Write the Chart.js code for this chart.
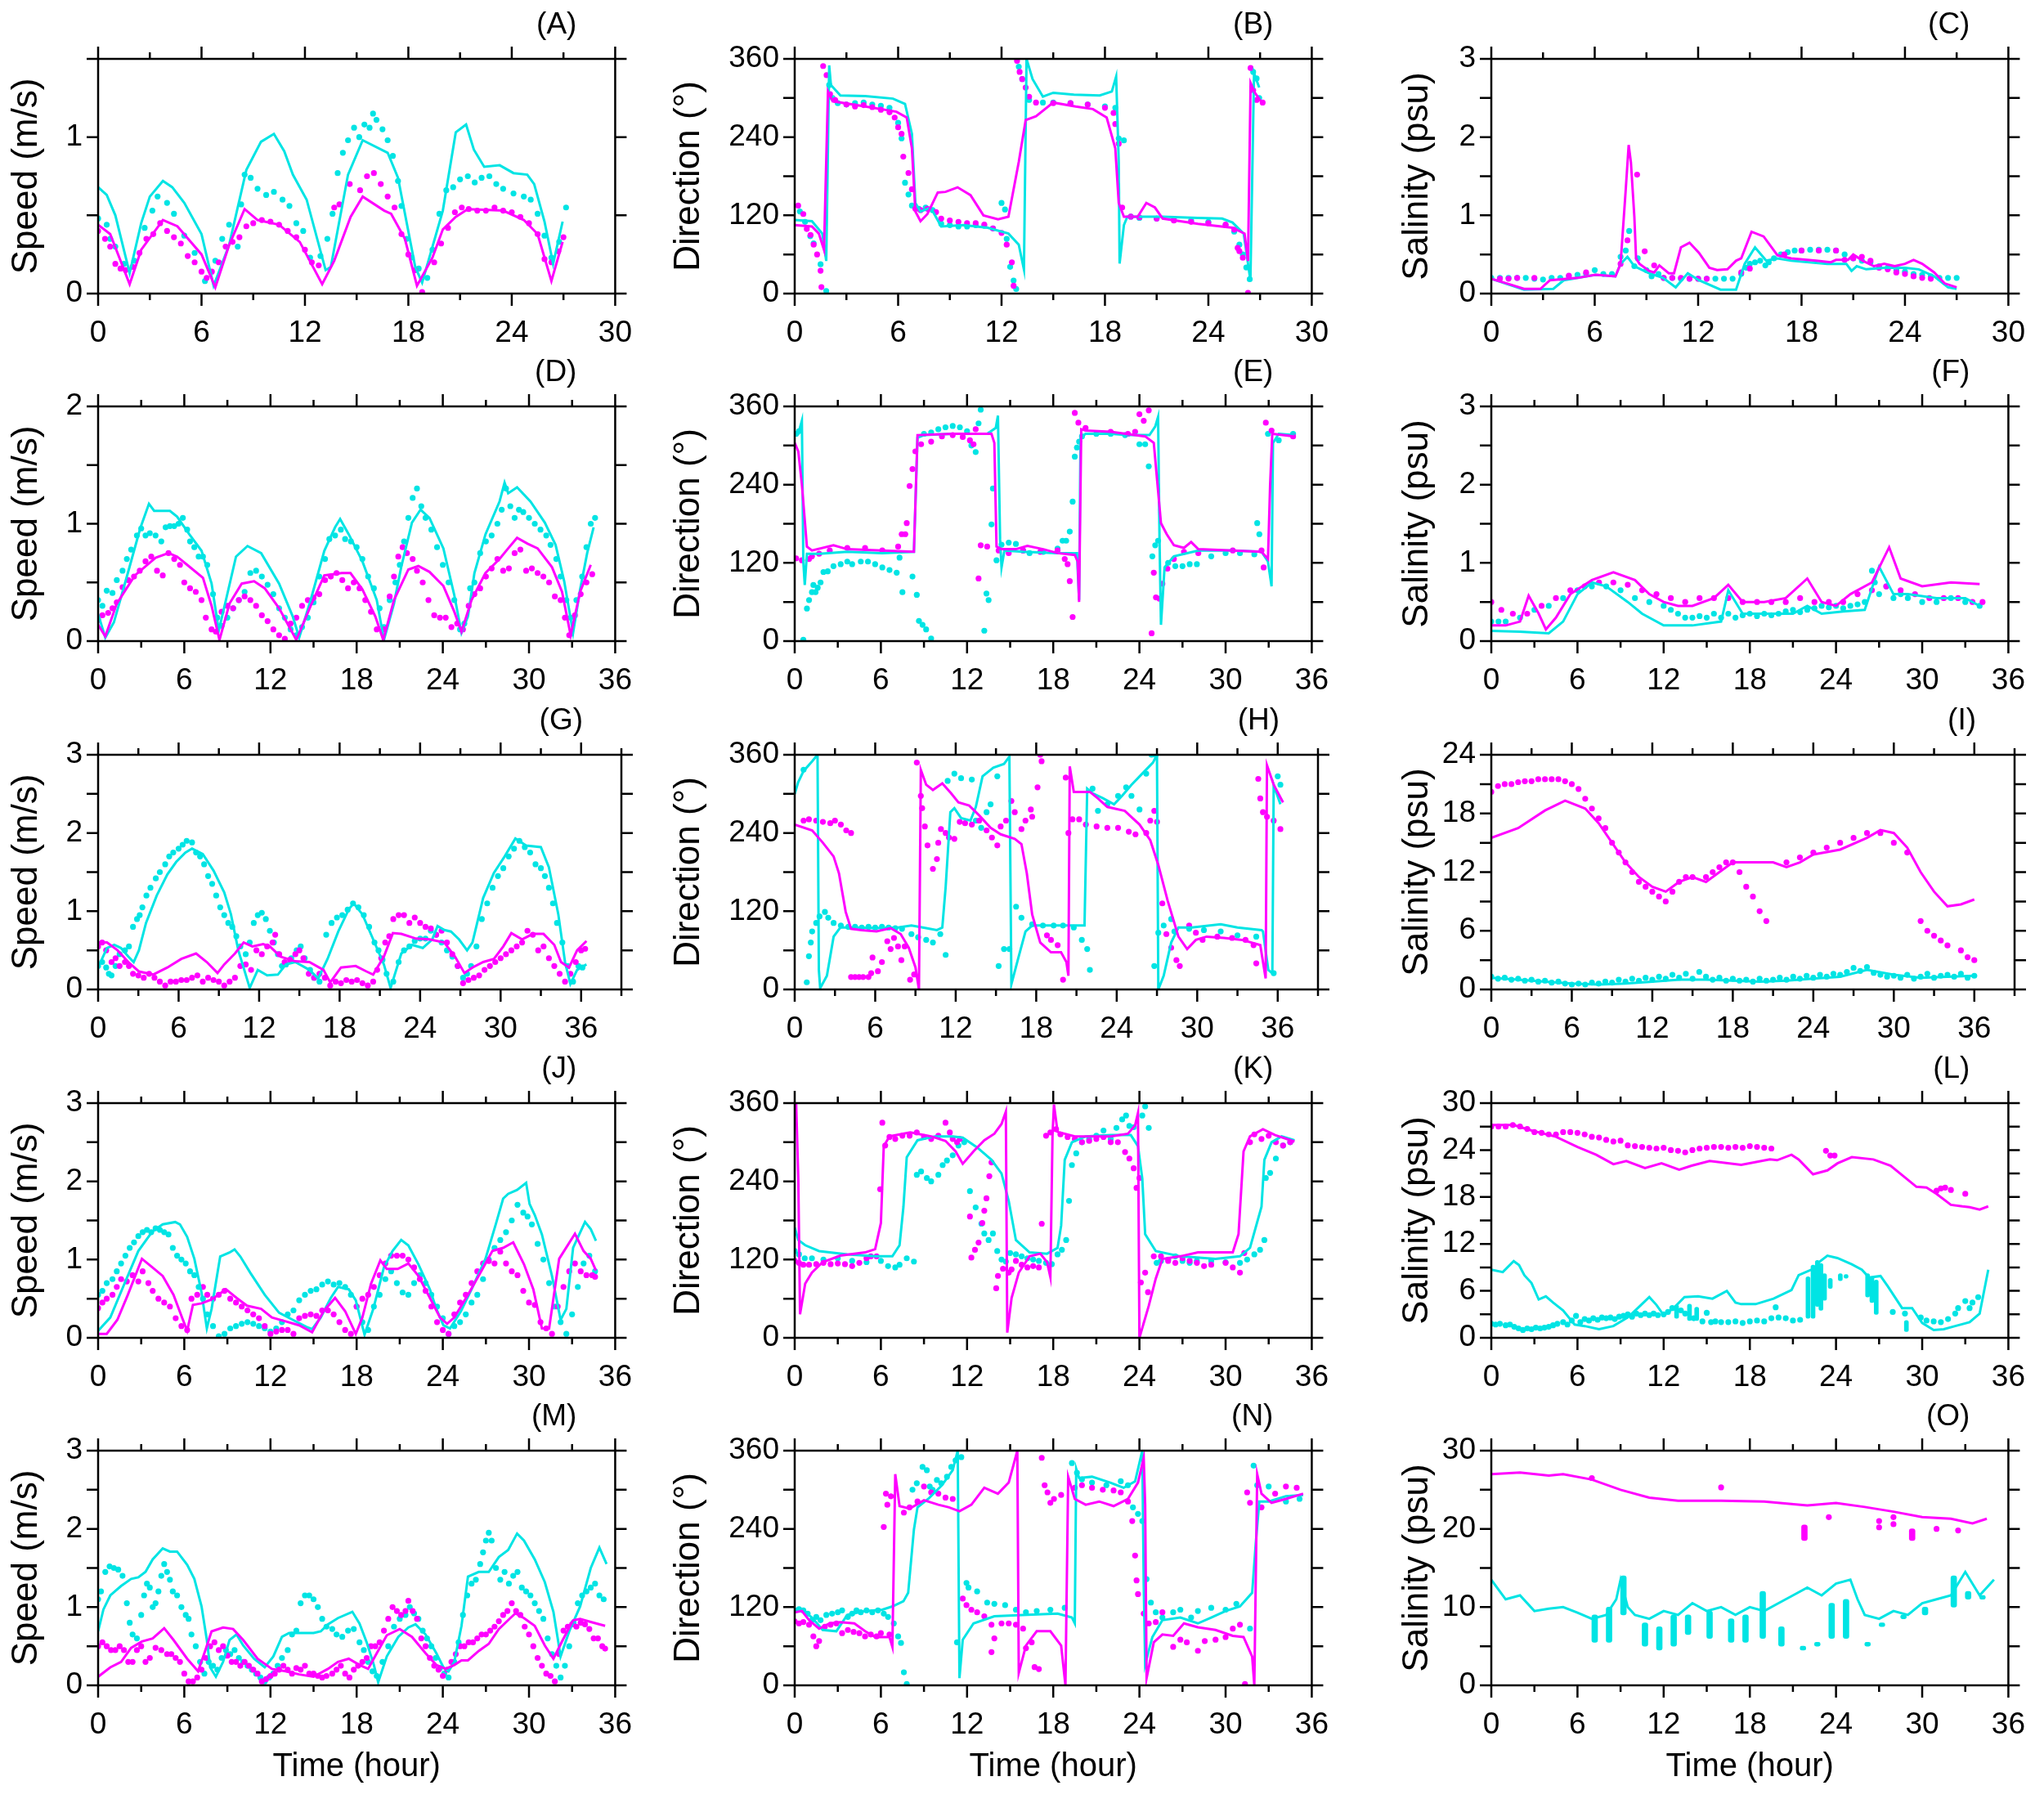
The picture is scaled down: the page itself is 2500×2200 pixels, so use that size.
<!DOCTYPE html>
<html>
<head>
<meta charset="utf-8">
<script src="https://cdn.jsdelivr.net/npm/chart.js@4.4.1/dist/chart.umd.min.js"></script>
<style>
  body { margin: 0; background: #fff; width: 2500px; height: 2200px; position: relative; overflow: hidden; }
  canvas { position: absolute; }
</style>
</head>
<body>
<script>
// ---- values: [hour, value] ----

// (A) speed
const aCyanLine = [[0,0.68],[0.5,0.63],[1,0.5],[1.83,0.13],[2.5,0.45],[3,0.62],[3.76,0.72],[4.3,0.68],[5,0.58],[6,0.38],[6.7,0.05],[7.6,0.31],[8.6,0.79],[9.45,0.97],[10.2,1.02],[10.8,0.91],[11.3,0.76],[12.1,0.6],[13.2,0.15],[13.5,0.17],[14.5,0.76],[15.35,0.98],[16.8,0.9],[17.4,0.74],[18.4,0.17],[18.8,0.07],[20,0.53],[20.75,1.03],[21.35,1.08],[21.8,0.92],[22.4,0.81],[23.3,0.82],[24.1,0.77],[24.9,0.76],[25.3,0.7],[25.9,0.46],[26.4,0.19],[26.95,0.46]];
const aMagLine = [[0,0.44],[0.7,0.38],[1.83,0.06],[2.5,0.28],[3.76,0.47],[4.6,0.43],[6,0.25],[6.8,0.04],[7.6,0.31],[8.5,0.54],[9.25,0.47],[10.5,0.44],[11.7,0.33],[13,0.06],[13.7,0.21],[14.65,0.49],[15.35,0.62],[16.6,0.53],[17,0.51],[17.8,0.35],[18.5,0.05],[19.4,0.23],[20,0.41],[20.75,0.49],[21.45,0.54],[23.5,0.53],[24.7,0.47],[25.5,0.38],[26.3,0.08],[26.95,0.33]];
const aCyanDots = [[0,0.48],[0.5,0.44],[0.7,0.35],[1,0.3],[1.5,0.19],[2.1,0.21],[2.7,0.42],[3.15,0.53],[3.45,0.62],[4,0.58],[4.4,0.51],[5,0.37],[5.6,0.26],[6.2,0.08],[6.8,0.21],[7.2,0.35],[7.6,0.44],[8.1,0.3],[8.3,0.57],[8.5,0.76],[8.85,0.74],[9.25,0.67],[9.75,0.63],[10.2,0.65],[10.7,0.6],[11.1,0.56],[11.5,0.45],[11.9,0.4],[12.3,0.23],[12.9,0.24],[13.3,0.35],[13.6,0.51],[13.9,0.77],[14.2,0.9],[14.5,0.98],[14.85,1.06],[15.15,1.0],[15.45,1.08],[15.75,1.06],[15.95,1.15],[16.15,1.11],[16.5,1.05],[16.8,0.98],[17.1,0.88],[17.4,0.72],[17.6,0.56],[17.9,0.35],[18.2,0.23],[18.6,0.16],[19.1,0.1],[19.4,0.28],[19.8,0.51],[20.2,0.66],[20.6,0.68],[21,0.73],[21.45,0.75],[21.85,0.71],[22.25,0.74],[22.7,0.75],[23.1,0.7],[23.5,0.67],[24.1,0.64],[24.7,0.62],[25.1,0.6],[25.5,0.51],[25.9,0.37],[26.3,0.23],[26.75,0.33],[27.15,0.55]];
const aMagDots = [[0,0.4],[0.4,0.35],[0.7,0.3],[1,0.19],[1.3,0.16],[1.6,0.15],[2,0.17],[2.4,0.26],[2.8,0.35],[3.2,0.38],[3.6,0.45],[4,0.4],[4.4,0.36],[4.8,0.32],[5.2,0.24],[5.6,0.2],[6,0.14],[6.3,0.1],[6.6,0.14],[7,0.2],[7.4,0.3],[7.8,0.33],[8.2,0.36],[8.6,0.43],[9,0.45],[9.5,0.47],[10,0.46],[10.5,0.44],[11,0.4],[11.5,0.36],[12,0.28],[12.4,0.2],[12.8,0.18],[13.7,0.55],[14,0.57],[14.6,0.7],[15.2,0.66],[15.6,0.75],[16,0.77],[16.4,0.7],[16.8,0.62],[17.2,0.55],[17.6,0.38],[18,0.25],[18.4,0.15],[18.8,0.01],[19.5,0.2],[19.9,0.32],[20.3,0.42],[20.7,0.52],[21.1,0.55],[21.5,0.54],[22,0.53],[22.5,0.53],[23,0.55],[23.5,0.53],[24,0.52],[24.5,0.49],[25,0.45],[25.5,0.38],[25.9,0.22],[26.3,0.2],[26.7,0.27],[27,0.36]];

// (B) direction
const bCyanLine = [[0,113],[1,111],[1.6,92],[1.83,50],[2,350],[2.1,320],[2.65,304],[4.1,303],[5.7,299],[6.4,291],[6.8,245],[7,139],[7.3,126],[7.9,132],[8.1,122],[8.5,103],[9.8,105],[11.2,101],[12.4,92],[13,75],[13.3,37],[13.45,360],[13.8,329],[14.4,302],[15,308],[16.2,305],[17.7,304],[18.4,310],[18.65,333],[18.8,202],[18.85,46],[19.1,105],[19.3,118],[21.35,118],[23.4,116],[24.8,115],[25.4,109],[26.05,92],[26.44,20],[26.65,338],[26.95,316]];
const bMagLine = [[0,105],[1,103],[1.4,92],[1.7,67],[1.93,310],[2.2,295],[4.1,287],[5.9,279],[6.5,270],[6.8,223],[7,126],[7.3,111],[7.7,122],[8.3,155],[8.75,156],[9.45,163],[10.2,151],[10.95,120],[11.8,114],[12.4,118],[13,202],[13.4,266],[14,272],[15,293],[16.3,287],[17.3,283],[18.1,270],[18.6,223],[18.8,139],[19.1,118],[19.9,118],[20.4,139],[20.9,132],[21.35,115],[23.4,107],[25.4,101],[26.1,92],[26.3,50],[26.45,323],[26.7,308],[27.15,291]];
const bCyanDots = [[0.3,126],[0.6,110],[0.9,88],[1.1,77],[1.5,45],[1.83,4],[2,320],[2.2,300],[2.5,292],[3,290],[3.5,292],[4,293],[4.5,290],[5,288],[5.5,285],[6,262],[6.2,238],[6.4,170],[6.6,152],[6.8,135],[7.2,130],[7.6,132],[8,128],[8.5,107],[9,105],[9.5,103],[10,103],[10.5,105],[11,104],[11.5,100],[12,139],[12.2,129],[12.3,84],[12.5,41],[12.7,20],[12.85,7],[13,348],[13.2,329],[13.6,297],[14.4,293],[15,293],[16,292],[17,290],[18,287],[18.6,285],[18.8,238],[19.1,235],[19.5,118],[20,116],[21,115],[22,114],[23,112],[24,110],[25,105],[25.5,95],[25.8,75],[26,60],[26.2,40],[26.4,22],[26.6,340],[26.8,330],[26.95,300]];
const bMagDots = [[0.2,135],[0.5,122],[0.7,99],[0.92,90],[1.1,75],[1.3,60],[1.5,35],[1.55,10],[1.65,349],[1.85,335],[2.05,306],[2.35,297],[3,290],[3.5,287],[4,289],[4.5,286],[5,282],[5.5,278],[5.8,270],[6,255],[6.2,245],[6.3,210],[6.6,185],[6.8,160],[7,130],[7.3,128],[7.7,130],[8.2,125],[8.5,115],[9,112],[9.5,110],[10,108],[10.5,108],[11,106],[11.5,100],[12,93],[12.3,75],[12.6,48],[12.7,12],[12.9,357],[13.05,340],[13.2,329],[13.4,316],[13.6,302],[14,293],[15,292],[16,292],[17,290],[18,285],[18.5,277],[18.6,260],[18.8,230],[19,132],[19.5,118],[20,117],[21,115],[22,112],[23,110],[24,108],[25,106],[25.5,98],[25.7,70],[25.8,65],[26,55],[26.3,1],[26.45,346],[26.6,312],[26.8,297],[27.15,293]];

// (C) salinity
const cCyanLine = [[0,0.19],[1.9,0.05],[3.6,0.06],[4.2,0.17],[6.05,0.24],[7.2,0.22],[7.5,0.38],[7.9,0.47],[8.3,0.35],[9.15,0.26],[9.97,0.2],[10.7,0.08],[11.4,0.26],[12.05,0.17],[13.3,0.05],[14.2,0.05],[14.7,0.38],[15.3,0.59],[15.95,0.42],[16.6,0.45],[17.4,0.42],[19.5,0.38],[20.6,0.38],[20.9,0.29],[21.2,0.35],[21.75,0.31],[22.8,0.33],[24,0.33],[24.8,0.31],[25.7,0.22],[26.5,0.08],[27,0.06]];
const cMagLine = [[0,0.19],[0.9,0.13],[1.9,0.06],[2.85,0.06],[3.4,0.17],[5,0.2],[6.05,0.24],[7.2,0.22],[7.5,0.38],[7.8,1.33],[7.97,1.9],[8.1,1.68],[8.3,0.98],[8.4,0.45],[8.6,0.38],[9.15,0.29],[9.45,0.27],[9.75,0.36],[10.3,0.26],[10.6,0.26],[11,0.59],[11.5,0.65],[12.05,0.52],[12.65,0.33],[13.1,0.3],[13.7,0.31],[14.2,0.42],[14.5,0.45],[15.1,0.79],[15.8,0.73],[16.6,0.49],[17.4,0.45],[18.85,0.42],[19.7,0.4],[20,0.43],[20.7,0.43],[21,0.5],[21.55,0.42],[22.2,0.35],[22.8,0.38],[23.4,0.35],[24,0.38],[24.5,0.43],[25,0.38],[25.7,0.27],[26.3,0.13],[27,0.08]];
const cCyanDots = [[0,0.2],[0.5,0.2],[1,0.2],[1.5,0.2],[2,0.2],[2.5,0.19],[3,0.18],[3.5,0.2],[4,0.2],[4.5,0.22],[5,0.24],[5.5,0.25],[6,0.3],[6.5,0.25],[7,0.25],[7.5,0.47],[7.8,0.55],[8,0.8],[8.3,0.35],[8.5,0.45],[9,0.3],[9.3,0.22],[9.7,0.25],[10,0.2],[10.5,0.2],[11,0.19],[11.5,0.19],[12,0.19],[12.5,0.19],[13,0.19],[13.5,0.19],[14,0.19],[14.5,0.25],[14.8,0.33],[15,0.38],[15.3,0.4],[15.6,0.42],[15.9,0.36],[16.1,0.4],[16.4,0.45],[16.8,0.5],[17.2,0.53],[17.6,0.55],[18,0.55],[18.5,0.56],[19,0.56],[19.5,0.56],[20,0.55],[20.5,0.5],[21,0.45],[21.5,0.42],[22,0.4],[22.5,0.35],[23,0.33],[23.5,0.3],[24,0.28],[24.5,0.25],[25,0.24],[25.5,0.22],[26,0.2],[26.5,0.2],[27,0.2]];
const cMagDots = [[0.5,0.19],[1,0.19],[1.5,0.2],[2.5,0.2],[4.5,0.23],[5.5,0.27],[7.5,0.38],[7.9,0.68],[8.46,1.52],[8.9,0.54],[9.45,0.36],[10,0.2],[10.5,0.2],[11,0.2],[11.5,0.19],[12,0.19],[12.5,0.19],[14.5,0.27],[15,0.32],[17,0.5],[18,0.55],[19,0.55],[20,0.55],[20.5,0.43],[21,0.45],[21.5,0.47],[22,0.42],[22.5,0.33],[23,0.31],[23.5,0.27],[24,0.25],[24.5,0.22],[25,0.2],[25.5,0.19]];

// (D) speed
const dCyanLine = [[0,0.23],[0.5,0.03],[1.1,0.16],[2.07,0.58],[2.93,0.96],[3.54,1.17],[3.9,1.11],[5,1.11],[5.5,1.06],[6.35,0.91],[7.2,0.77],[7.9,0.49],[8.4,0.09],[8.9,0.35],[9.6,0.72],[10.4,0.81],[11.35,0.75],[12.6,0.49],[13.55,0.21],[14,0.03],[14.8,0.35],[15.75,0.77],[16.5,0.97],[16.85,1.04],[17.45,0.91],[18.4,0.68],[19.4,0.35],[19.9,0.01],[20.6,0.32],[21.1,0.63],[21.85,1.01],[22.45,1.12],[23.07,1.05],[24.04,0.79],[24.8,0.39],[25.3,0.07],[25.75,0.21],[26.2,0.58],[26.97,0.91],[27.95,1.19],[28.3,1.35],[28.55,1.26],[29.17,1.31],[30.1,1.19],[31.1,1.01],[31.85,0.82],[32.45,0.51],[33.07,0.07],[33.56,0.44],[34.05,0.75],[34.5,0.97]];
const dMagLine = [[0,0.14],[0.5,0.04],[1.3,0.32],[2.56,0.56],[4,0.71],[4.9,0.75],[5.5,0.72],[6.2,0.65],[7.3,0.54],[7.9,0.3],[8.45,0.01],[9.15,0.32],[10,0.49],[10.86,0.51],[11.6,0.45],[12.6,0.28],[13.8,0.01],[14.8,0.3],[15.75,0.56],[16.96,0.58],[17.57,0.58],[18.4,0.44],[19.3,0.21],[19.85,0.01],[20.6,0.35],[21.6,0.61],[22.3,0.64],[23.07,0.59],[24.04,0.47],[24.8,0.25],[25.3,0.08],[26,0.35],[26.97,0.58],[27.95,0.7],[28.55,0.79],[29.17,0.88],[29.9,0.83],[30.6,0.79],[31.6,0.63],[32.3,0.42],[32.9,0.05],[33.56,0.42],[34.3,0.65]];
const dCyanDots = [[0,0.35],[0.3,0.3],[0.6,0.43],[1,0.41],[1.3,0.52],[1.7,0.6],[2,0.7],[2.3,0.78],[2.7,0.9],[3,0.96],[3.3,0.9],[3.6,0.92],[4,0.9],[4.4,0.85],[4.7,0.97],[5,0.98],[5.3,0.98],[5.6,1.0],[5.9,1.05],[6.2,0.95],[6.4,0.85],[6.7,0.8],[7,0.72],[7.3,0.72],[7.6,0.65],[8,0.4],[8.3,0.2],[8.6,0.13],[9,0.2],[9.4,0.28],[9.8,0.35],[10.2,0.42],[10.6,0.58],[11,0.6],[11.4,0.55],[11.8,0.48],[12.2,0.4],[12.6,0.28],[13,0.2],[13.4,0.1],[13.8,0.05],[14.2,0.12],[14.6,0.2],[15,0.33],[15.4,0.55],[15.8,0.7],[16.1,0.87],[16.5,0.9],[16.9,0.95],[17.2,0.87],[17.6,0.85],[18,0.8],[18.4,0.7],[18.8,0.55],[19.2,0.45],[19.6,0.28],[19.9,0.12],[20.3,0.35],[20.7,0.5],[21,0.65],[21.3,0.85],[21.6,1.05],[21.9,1.22],[22.2,1.3],[22.5,1.15],[22.8,1.05],[23.2,0.95],[23.6,0.8],[24,0.65],[24.4,0.5],[24.8,0.35],[25.2,0.1],[25.5,0.15],[25.9,0.45],[26.2,0.5],[26.6,0.75],[27,0.85],[27.4,0.9],[27.8,1.0],[28.1,1.12],[28.4,1.3],[28.7,1.15],[29,1.05],[29.3,1.12],[29.6,1.1],[30,1.05],[30.4,1.0],[30.8,0.95],[31.2,0.9],[31.5,0.82],[31.9,0.7],[32.2,0.55],[32.6,0.35],[32.9,0.2],[33.3,0.35],[33.7,0.55],[34,0.8],[34.3,1.0],[34.6,1.05]];
const dMagDots = [[0,0.18],[0.3,0.22],[0.7,0.24],[1,0.28],[1.3,0.33],[1.7,0.46],[2.1,0.52],[2.5,0.55],[2.9,0.6],[3.3,0.68],[3.7,0.72],[4.1,0.6],[4.5,0.56],[4.9,0.75],[5.3,0.7],[5.7,0.65],[6,0.5],[6.4,0.45],[6.8,0.42],[7.2,0.35],[7.5,0.2],[7.9,0.1],[8.2,0.08],[8.6,0.25],[9,0.3],[9.4,0.28],[9.8,0.35],[10.2,0.38],[10.6,0.35],[11,0.3],[11.4,0.22],[11.8,0.17],[12.2,0.1],[12.6,0.05],[13,0.02],[13.4,0.15],[13.8,0.2],[14.2,0.3],[14.6,0.35],[15,0.37],[15.4,0.4],[15.8,0.52],[16.2,0.55],[16.6,0.58],[17,0.52],[17.4,0.45],[17.8,0.5],[18.2,0.45],[18.6,0.35],[19,0.25],[19.4,0.1],[19.9,0.1],[20.3,0.38],[20.6,0.55],[20.9,0.72],[21.2,0.8],[21.5,0.75],[21.9,0.7],[22.2,0.6],[22.6,0.5],[23,0.35],[23.4,0.22],[23.8,0.2],[24.2,0.2],[24.6,0.12],[25,0.15],[25.4,0.1],[25.8,0.3],[26.2,0.4],[26.6,0.45],[27,0.55],[27.4,0.62],[27.8,0.7],[28.2,0.6],[28.6,0.62],[29,0.75],[29.4,0.78],[29.8,0.6],[30.2,0.62],[30.6,0.58],[31,0.55],[31.4,0.5],[31.8,0.38],[32.2,0.35],[32.5,0.2],[32.8,0.05],[33.2,0.22],[33.6,0.4],[34,0.5],[34.4,0.57]];

// (E) direction
const eCyanLine = [[0,318],[0.25,318],[0.5,338],[0.6,122],[0.7,86],[0.85,134],[1.7,134],[3.66,137],[6.1,135],[8.3,137],[8.55,312],[9,316],[11,318],[13.4,318],[14,327],[14.15,346],[14.3,156],[14.4,113],[14.6,139],[15.9,137],[18.3,135],[19.65,135],[19.8,63],[19.9,312],[20.25,318],[22,318],[23.2,316],[24.7,316],[25.1,329],[25.3,344],[25.4,156],[25.5,25],[25.75,113],[26.4,130],[28.1,139],[30.5,139],[32.5,137],[32.95,122],[33.2,84],[33.3,304],[33.7,318],[34.8,316]];
const eMagLine = [[0,304],[0.25,291],[0.5,240],[0.85,145],[1.2,139],[2.7,147],[3.66,141],[6.1,139],[8.3,137],[8.55,316],[11,318],[13.7,318],[13.9,304],[14.05,145],[14.4,141],[15.4,141],[16.2,146],[17.3,141],[18.3,135],[19.5,132],[19.7,122],[19.8,60],[19.95,325],[20.25,323],[22,321],[24.4,314],[25,304],[25.26,240],[25.5,181],[25.9,164],[26.4,147],[27.1,143],[27.6,152],[28.1,141],[30.5,139],[32.5,137],[32.95,126],[33.1,240],[33.25,318],[34.8,314]];
const eCyanDots = [[0.1,318],[0.3,322],[0.6,2],[0.85,50],[1,63],[1.2,75],[1.3,86],[1.45,75],[1.6,82],[1.8,90],[2,106],[2.3,107],[2.7,115],[3.2,118],[3.66,122],[4,118],[4.6,122],[5.1,122],[5.6,118],[6.1,113],[6.6,109],[7.1,105],[7.3,128],[7.5,75],[8.2,99],[8.5,71],[8.65,31],[8.9,25],[9.15,18],[9.5,4],[9,318],[9.5,320],[10,325],[10.5,328],[11,330],[11.5,328],[12,322],[12.3,300],[12.6,290],[12.8,334],[12.95,355],[13.2,16],[13.35,73],[13.5,63],[13.7,179],[13.8,234],[14.05,124],[14.4,148],[14.9,151],[15.4,149],[15.9,139],[16.35,135],[17.3,137],[18.3,142],[18.65,154],[18.9,154],[19.15,168],[19.35,214],[19.5,283],[19.65,297],[19.8,306],[20,314],[21,318],[22,318],[23,316],[24,302],[24.4,302],[24.65,268],[24.9,130],[25.1,147],[25.3,154],[26,120],[26.5,115],[27,115],[27.5,118],[28,118],[29,130],[30,135],[31,135],[32,133],[32.2,181],[32.35,164],[32.95,318],[33.7,308],[34.7,318]];
const eMagDots = [[0.1,127],[0.5,124],[1,126],[1.2,130],[1.7,134],[2.44,139],[3.66,143],[4.9,143],[6.1,139],[7.2,145],[7.45,164],[7.7,164],[7.8,181],[8,238],[8.2,264],[8.4,291],[8.8,302],[9.5,306],[10.25,314],[11,316],[11.7,313],[12.2,308],[12.45,302],[12.6,325],[12.8,96],[12.95,147],[13.4,145],[14.2,139],[14.9,135],[15.9,139],[17.1,137],[18.3,139],[18.8,126],[19,118],[19.15,92],[19.35,37],[19.5,350],[19.75,335],[20.25,327],[22,321],[23.2,318],[23.7,321],[24,348],[24.3,338],[24.65,354],[24.85,12],[25,105],[25.15,67],[25.4,65],[25.6,88],[25.95,111],[26.4,126],[27.1,137],[28.1,135],[30.5,139],[32.5,139],[32.65,113],[32.8,335],[33.2,323],[34.7,314]];

// (F) salinity
const fCyanLine = [[0,0.13],[2,0.12],[4,0.1],[5,0.25],[6,0.6],[7,0.75],[8,0.7],[9.5,0.5],[10.5,0.35],[12,0.2],[14,0.2],[16,0.25],[16.5,0.65],[17.5,0.35],[19,0.35],[21,0.35],[22,0.45],[23,0.35],[24.5,0.38],[26,0.4],[27,0.95],[28,0.6],[29,0.6],[31,0.55],[33,0.55],[34,0.45]];
const fMagLine = [[0,0.2],[1,0.2],[2,0.25],[2.6,0.58],[3.3,0.35],[3.8,0.15],[4.5,0.3],[5.5,0.6],[7,0.78],[8.5,0.88],[10,0.78],[11,0.6],[12,0.5],[13,0.45],[14,0.45],[15.5,0.55],[16.5,0.72],[17.5,0.5],[19,0.5],[20.5,0.55],[22,0.8],[23,0.5],[24,0.45],[25,0.6],[26.5,0.75],[27.7,1.2],[28.5,0.8],[30,0.7],[32,0.75],[34,0.73]];
const fCyanDots = [[0,0.25],[0.5,0.25],[1,0.25],[2,0.3],[3,0.4],[4,0.45],[5,0.55],[6,0.65],[7,0.7],[8,0.7],[9,0.65],[10,0.55],[11,0.5],[12,0.45],[12.5,0.4],[13,0.35],[13.5,0.3],[14,0.3],[14.5,0.32],[15,0.3],[15.5,0.35],[16,0.3],[16.5,0.35],[17,0.3],[17.5,0.33],[18,0.35],[18.5,0.32],[19,0.35],[19.5,0.33],[20,0.35],[20.5,0.38],[21,0.4],[21.5,0.37],[22,0.4],[22.5,0.42],[23,0.45],[23.5,0.43],[24,0.45],[24.5,0.42],[25,0.45],[25.5,0.47],[26,0.5],[26.5,0.9],[26.7,0.75],[27,0.6],[27.5,0.7],[28,0.55],[28.5,0.6],[29,0.55],[30,0.5],[31,0.5],[32,0.55],[33,0.5],[34,0.45]];
const fMagDots = [[0,0.5],[0.7,0.4],[1.5,0.35],[2.5,0.35],[3.5,0.45],[4.5,0.55],[5.5,0.65],[6.5,0.7],[7.5,0.75],[8.5,0.75],[9.5,0.72],[10.5,0.65],[11.5,0.6],[12.5,0.55],[13.5,0.5],[14.5,0.55],[15.5,0.55],[16.5,0.55],[17.5,0.5],[18.5,0.5],[19.5,0.5],[20.5,0.5],[21.5,0.55],[22.5,0.5],[23.5,0.5],[24.5,0.5],[25.5,0.6],[26.5,0.65],[27.5,0.7],[28.5,0.65],[29.5,0.6],[30.5,0.55],[31.5,0.55],[32.5,0.55],[33.5,0.5],[34.2,0.5]];

// (G) speed
const gCyanLine = [[0,0.28],[0.66,0.53],[1.2,0.57],[1.7,0.53],[2.25,0.42],[2.65,0.35],[3.04,0.5],[3.57,0.85],[4.37,1.2],[5.16,1.47],[5.82,1.63],[6.5,1.75],[7,1.8],[7.8,1.73],[8.6,1.52],[9.4,1.24],[9.9,0.96],[10.45,0.5],[11.3,0.02],[11.9,0.25],[12.6,0.18],[13.4,0.19],[14,0.32],[14.7,0.35],[15.75,0.25],[16.4,0.14],[17.1,0.39],[17.9,0.74],[18.7,1.03],[19.05,1.1],[19.7,0.96],[20.5,0.64],[21.3,0.32],[21.8,0.02],[22.6,0.46],[23.4,0.57],[24.2,0.53],[24.9,0.64],[25.3,0.81],[25.8,0.76],[26.3,0.74],[26.9,0.64],[27.5,0.5],[27.9,0.6],[28.7,1.17],[29.5,1.49],[30.3,1.7],[31.1,1.93],[31.9,1.84],[33,1.82],[33.6,1.56],[34.3,0.96],[34.8,0.35],[35.2,0.07],[35.7,0.25],[36.4,0.32]];
const gMagLine = [[0,0.6],[0.66,0.6],[1.45,0.5],[2.25,0.35],[3.04,0.23],[4.1,0.19],[5.16,0.28],[6.2,0.39],[7.3,0.46],[8.1,0.35],[8.9,0.21],[9.4,0.32],[10.2,0.46],[10.85,0.6],[11.5,0.55],[12.3,0.58],[12.8,0.55],[13.6,0.42],[14.7,0.36],[15.75,0.35],[16.8,0.25],[17.3,0.09],[18.1,0.28],[19.2,0.3],[20,0.23],[20.5,0.19],[21.3,0.42],[21.97,0.72],[22.6,0.71],[23.7,0.65],[24.7,0.64],[25.8,0.6],[26.6,0.42],[27.3,0.21],[27.9,0.28],[28.7,0.35],[29.5,0.39],[30.2,0.55],[30.8,0.72],[31.6,0.64],[32.4,0.71],[33.2,0.71],[34,0.57],[34.5,0.35],[35.1,0.28],[35.7,0.5],[36.4,0.62]];
const gCyanDots = [[0,0.3],[0.3,0.35],[0.6,0.28],[0.8,0.2],[1,0.18],[1.3,0.3],[1.6,0.45],[2,0.5],[2.3,0.55],[2.6,0.8],[2.9,0.9],[3.1,0.95],[3.3,1.05],[3.6,1.2],[3.9,1.3],[4.3,1.42],[4.6,1.5],[5,1.6],[5.3,1.7],[5.6,1.75],[6,1.8],[6.3,1.85],[6.6,1.9],[7,1.88],[7.3,1.75],[7.6,1.7],[7.9,1.6],[8.2,1.45],[8.5,1.35],[8.8,1.2],[9.1,1.05],[9.4,0.95],[9.7,0.85],[10,0.8],[10.3,0.68],[10.6,0.55],[11,0.45],[11.3,0.6],[11.6,0.85],[11.9,0.95],[12.2,0.98],[12.5,0.9],[12.8,0.75],[13.1,0.6],[13.4,0.45],[13.7,0.3],[14,0.32],[14.4,0.4],[14.8,0.5],[15.1,0.55],[15.4,0.4],[15.8,0.25],[16.1,0.15],[16.5,0.1],[17,0.7],[17.4,0.85],[17.8,0.92],[18.2,0.95],[18.6,1.02],[19,1.1],[19.4,1.05],[19.8,0.95],[20.2,0.8],[20.6,0.6],[20.9,0.5],[21.2,0.38],[21.5,0.2],[22,0.1],[22.4,0.35],[22.8,0.5],[23.2,0.55],[23.6,0.62],[24,0.65],[24.4,0.65],[24.8,0.75],[25.2,0.7],[25.6,0.6],[26,0.5],[26.4,0.42],[26.8,0.3],[27.2,0.15],[27.5,0.2],[27.8,0.3],[28.2,0.55],[28.6,0.9],[29,1.1],[29.4,1.3],[29.8,1.45],[30.2,1.55],[30.6,1.7],[31,1.8],[31.4,1.9],[31.8,1.82],[32.2,1.75],[32.6,1.6],[33,1.55],[33.3,1.45],[33.6,1.3],[33.9,1.1],[34.2,0.85],[34.6,0.6],[35,0.3],[35.4,0.1],[35.8,0.3],[36.1,0.28]];
const gMagDots = [[0,0.55],[0.3,0.6],[0.6,0.5],[1,0.35],[1.3,0.4],[1.6,0.3],[2,0.35],[2.3,0.3],[2.6,0.2],[3,0.18],[3.4,0.15],[3.8,0.2],[4.2,0.15],[4.6,0.1],[5,0.05],[5.4,0.1],[5.8,0.1],[6.2,0.12],[6.6,0.12],[7,0.15],[7.4,0.18],[7.8,0.1],[8.2,0.15],[8.6,0.12],[9,0.1],[9.4,0.05],[9.8,0.1],[10.2,0.15],[10.6,0.3],[11,0.32],[11.4,0.25],[11.8,0.5],[12.2,0.45],[12.6,0.55],[13,0.6],[13.2,0.7],[13.5,0.45],[13.9,0.35],[14.3,0.38],[14.7,0.45],[15,0.5],[15.3,0.4],[15.7,0.2],[16.1,0.15],[16.5,0.2],[16.9,0.15],[17.3,0.05],[17.7,0.1],[18.1,0.08],[18.5,0.12],[18.9,0.1],[19.3,0.12],[19.7,0.08],[20.1,0.05],[20.5,0.1],[20.8,0.25],[21.1,0.4],[21.4,0.6],[21.7,0.68],[22,0.9],[22.4,0.95],[22.8,0.95],[23.2,0.85],[23.6,0.92],[24,0.85],[24.4,0.8],[24.8,0.78],[25.2,0.7],[25.6,0.75],[26,0.6],[26.4,0.45],[26.8,0.3],[27.2,0.08],[27.6,0.12],[28,0.15],[28.4,0.18],[28.8,0.25],[29.2,0.3],[29.6,0.35],[30,0.4],[30.4,0.45],[30.8,0.5],[31.2,0.55],[31.6,0.6],[32,0.75],[32.4,0.7],[32.8,0.5],[33.2,0.55],[33.6,0.4],[34,0.3],[34.4,0.2],[34.8,0.1],[35.2,0.2],[35.6,0.35],[36,0.5],[36.3,0.52]];

// (H) direction
const hCyanLine = [[0,300],[0.26,318],[0.66,335],[1.3,350],[1.7,360],[1.8,30],[1.9,2],[2.4,21],[2.9,81],[3.4,95],[4.5,95],[6.1,94],[7.7,95],[8.7,98],[9.8,94],[10.6,91],[11,95],[11.25,157],[11.6,272],[11.9,278],[12.4,263],[13.1,259],[13.5,280],[14,327],[14.8,340],[15.6,346],[16,357],[16.15,8],[16.7,51],[17.2,89],[17.7,98],[18.8,98],[20.4,98],[21.6,98],[21.8,308],[22.2,301],[23,293],[23.8,284],[24.4,297],[25.1,314],[25.9,331],[26.7,348],[27,360],[27.1,0],[27.5,21],[28.06,72],[28.6,95],[29.6,95],[31.75,100],[33,95],[34.8,91],[34.9,89],[35.3,30],[35.6,25],[35.7,314],[36.2,284]];
const hMagLine = [[0,253],[1.3,244],[2.1,225],[2.9,204],[3.3,178],[3.8,119],[4.2,93],[5,91],[6.1,89],[7.15,94],[7.9,85],[8.5,64],[9,34],[9.26,0],[9.4,337],[9.8,314],[10.3,306],[11,316],[11.65,301],[12.2,287],[13,282],[13.75,267],[14.6,248],[15.35,238],[16.4,231],[16.9,223],[17.3,178],[17.7,115],[18.3,72],[19.1,57],[19.85,57],[20.25,42],[20.4,21],[20.5,342],[20.8,303],[22,303],[22.6,293],[23.3,280],[24.6,274],[25.7,253],[26.5,229],[27.1,191],[27.8,136],[28.6,81],[29.25,62],[29.9,76],[30.7,81],[32,79],[33.35,76],[34.7,68],[35.1,17],[35.2,344],[35.7,314],[36.4,287]];
const hCyanDots = [[0.66,337],[0.9,11],[1.06,51],[1.2,72],[1.3,89],[1.6,102],[1.85,112],[2.25,119],[2.5,110],[2.9,102],[3.44,98],[4,96],[4.5,96],[5,95],[5.5,96],[6,95],[6.5,96],[7,95],[7.5,94],[8,93],[8.7,85],[9.2,80],[9.8,76],[10.3,72],[10.85,85],[11.25,53],[11.4,320],[11.9,331],[12.4,324],[13.2,322],[13.5,259],[13.9,248],[14.3,272],[14.6,284],[15.1,327],[15.2,36],[15.6,62],[16,62],[16.5,127],[16.9,110],[17.7,100],[18.5,98],[19.3,98],[20,98],[20.8,95],[21.4,76],[21.8,62],[22,30],[22.2,308],[22.6,274],[23.3,284],[24.1,297],[24.7,310],[25.1,297],[25.7,276],[26.2,331],[26.6,360],[26.8,36],[26.9,360],[27.1,87],[27.5,98],[28.06,108],[28.3,89],[29.4,93],[30.5,91],[31.75,89],[33,83],[34.4,81],[35.7,25],[36,327],[36.2,314]];
const hMagDots = [[0.66,259],[1.06,261],[1.6,259],[2.1,257],[2.65,255],[3,259],[3.44,253],[3.84,244],[4.2,240],[4.2,19],[4.5,19],[4.8,19],[5.1,19],[5.5,19],[5.7,25],[5.8,49],[6.2,28],[6.5,42],[6.9,74],[7.15,62],[7.4,79],[7.7,66],[7.95,45],[8.2,66],[8.6,15],[8.9,23],[9.1,348],[9.4,297],[9.5,278],[9.7,250],[9.9,221],[10.3,185],[10.6,200],[10.7,225],[10.9,246],[11.25,240],[11.5,233],[11.9,231],[12.3,257],[12.7,255],[13.2,253],[13.75,259],[14.3,244],[14.7,233],[15.1,221],[15.35,250],[15.75,259],[16.15,289],[16.4,272],[16.9,246],[17.2,259],[17.6,276],[17.7,265],[18.1,310],[18.3,360],[18.4,350],[18.8,83],[19.1,76],[19.6,68],[20,15],[20.2,325],[20.4,240],[20.7,261],[21.2,261],[21.7,253],[22.5,250],[23.3,248],[24.1,248],[24.9,242],[25.4,238],[26.2,240],[26.5,259],[26.8,274],[27,257],[27.4,132],[27.7,85],[28.06,64],[28.45,45],[28.7,36],[29.4,98],[29.9,87],[30.4,76],[31.5,81],[32.6,79],[33.6,76],[34.2,68],[34.4,40],[34.55,323],[34.7,293],[34.9,272],[35.2,265],[35.7,259],[36.2,246]];

// (I) salinity
const iCyanLine = [[0,1.2],[2,1.0],[4,0.8],[6,0.6],[8,0.5],[10,0.6],[12,0.8],[14,1.0],[16,1.0],[18,0.9],[20,0.8],[22,0.9],[24,1.1],[26,1.3],[28,2.0],[30,1.5],[32,1.2],[34,1.3],[36,1.4]];
const iMagLine = [[0,15.5],[2,16.5],[4,18.3],[5.5,19.3],[7,18.5],[8,17],[9,15],[10,13],[11,11.5],[12,10.5],[13,10],[14,11],[15,11.5],[16,11],[17,12],[18,13],[19,13],[21,13],[22,12.5],[23,13],[24,13.8],[26,14.3],[28,15.5],[29,16.3],[30,16],[31,14.5],[32,12],[33,10],[34,8.5],[35,8.7],[36,9.2]];
const iCyanDots = [[0,1.3],[0.5,1.1],[1,1.2],[1.5,1.0],[2,1.1],[2.5,0.9],[3,1.0],[3.5,0.8],[4,0.9],[4.5,0.7],[5,0.8],[5.5,0.6],[6,0.5],[6.5,0.6],[7,0.5],[7.5,0.7],[8,0.6],[8.5,0.8],[9,0.7],[9.5,1.0],[10,0.8],[10.5,1.1],[11,0.9],[11.5,1.2],[12,1.0],[12.5,1.3],[13,1.1],[13.5,1.5],[14,1.2],[14.5,1.6],[15,1.1],[15.5,1.8],[16,1.3],[16.5,1.0],[17,1.2],[17.5,0.9],[18,1.1],[18.5,0.9],[19,1.0],[19.5,0.8],[20,1.1],[20.5,0.9],[21,1.0],[21.5,1.2],[22,1.0],[22.5,1.3],[23,1.1],[23.5,1.4],[24,1.2],[24.5,1.5],[25,1.3],[25.5,1.6],[26,1.5],[26.5,1.8],[27,2.2],[27.5,1.9],[28,2.3],[28.5,1.7],[29,1.5],[29.5,1.3],[30,1.4],[30.5,1.2],[31,1.5],[31.5,1.1],[32,1.3],[32.5,1.6],[33,1.2],[33.5,1.4],[34,1.5],[34.5,1.3],[35,1.6],[35.5,1.2],[36,1.4]];
const iMagDots = [[0,20.2],[0.5,20.8],[1,21],[1.5,21],[2,21.2],[2.5,21.3],[3,21.3],[3.5,21.5],[4,21.5],[4.5,21.5],[5,21.5],[5.5,21.3],[6,21],[6.5,20.5],[7,19.5],[7.5,18.5],[8,17.5],[8.5,16.5],[9,15],[9.5,14],[10,13],[10.5,12],[11,11],[11.5,10.5],[12,10],[12.5,9.5],[13,9],[13.5,10],[14,11],[14.5,11.5],[15,11.5],[16,11.5],[16.5,12],[17,12.5],[17.5,13],[18,13],[18.5,12],[19,10.5],[19.5,9.5],[20,8],[20.5,7],[22,13],[23,13.5],[24,14],[25,14.5],[26,15],[27,15.5],[28,16],[29,16],[30,15],[31,14],[32,7],[32.5,6],[33,5.5],[33.5,5],[34,4.5],[35,4],[35.5,3.3],[36,3]];

// (J) speed
const jCyanLine = [[0,0.09],[0.85,0.26],[1.83,0.69],[2.8,1.11],[3.78,1.36],[4.5,1.45],[5.37,1.48],[5.7,1.45],[6.2,1.29],[6.7,1.01],[7.2,0.58],[7.57,0.12],[7.9,0.37],[8.5,1.04],[9.15,1.09],[9.5,1.13],[9.9,1.04],[10.6,0.83],[11.6,0.55],[12.6,0.32],[13.55,0.23],[14.5,0.14],[14.9,0.11],[15.5,0.26],[16.2,0.51],[16.7,0.65],[17.45,0.62],[17.94,0.48],[18.55,0.04],[19.16,0.37],[19.9,0.9],[20.5,1.11],[21.1,1.25],[21.6,1.18],[22.3,0.94],[23.1,0.62],[23.55,0.37],[24.04,0.16],[24.5,0.12],[25.26,0.34],[26,0.62],[26.97,1.01],[27.7,1.46],[28.2,1.78],[28.55,1.84],[29.17,1.89],[29.8,1.98],[30.04,1.71],[30.4,1.57],[30.9,1.32],[31.6,0.79],[32.2,0.23],[32.6,0.37],[33.07,1.15],[33.9,1.48],[34.3,1.39],[34.66,1.24]];
const jMagLine = [[0,0.05],[0.6,0.05],[1.34,0.23],[2.07,0.55],[3.05,1.01],[3.78,0.9],[4.5,0.79],[5.25,0.55],[5.86,0.25],[6.2,0.09],[6.6,0.42],[7.2,0.44],[7.9,0.49],[8.9,0.62],[9.64,0.51],[10.37,0.41],[11.35,0.37],[12.1,0.26],[13.05,0.21],[14,0.16],[14.9,0.07],[15.7,0.34],[16.5,0.51],[17.2,0.34],[17.94,0.05],[18.4,0.26],[19,0.69],[19.65,0.99],[20.1,0.88],[20.86,0.88],[21.6,0.95],[22.3,0.79],[23.1,0.51],[23.8,0.26],[24.3,0.18],[24.8,0.26],[25.75,0.55],[26.7,0.86],[27.45,1.11],[28.2,1.15],[28.9,1.22],[29.65,0.94],[30.3,0.62],[30.9,0.12],[31.4,0.12],[32.1,1.01],[33.2,1.33],[33.8,1.11],[34.3,1.01],[34.66,0.86]];
const jCyanDots = [[0,0.55],[0.3,0.6],[0.6,0.7],[1,0.75],[1.3,0.85],[1.6,0.95],[1.9,1.05],[2.2,1.15],[2.5,1.22],[2.8,1.3],[3.1,1.35],[3.4,1.38],[3.7,1.35],[4,1.4],[4.3,1.38],[4.6,1.35],[4.9,1.32],[5.2,1.15],[5.5,1.05],[5.8,1.0],[6.1,0.95],[6.4,0.85],[6.7,0.8],[7,0.65],[7.3,0.5],[7.6,0.3],[8,0.15],[8.4,0.02],[8.8,0.05],[9.2,0.12],[9.6,0.15],[10,0.18],[10.4,0.2],[10.8,0.18],[11.2,0.15],[11.6,0.12],[12,0.08],[12.4,0.12],[12.8,0.2],[13.2,0.3],[13.6,0.35],[14,0.48],[14.4,0.55],[14.8,0.6],[15.2,0.62],[15.6,0.68],[16,0.72],[16.4,0.68],[16.8,0.7],[17.2,0.65],[17.6,0.55],[18,0.4],[18.4,0.2],[18.8,0.1],[19.2,0.4],[19.6,0.55],[20,0.75],[20.4,0.85],[20.8,0.7],[21.2,0.58],[21.6,0.55],[22,0.7],[22.4,0.8],[22.8,0.7],[23.2,0.55],[23.6,0.4],[24,0.25],[24.4,0.05],[24.8,0.15],[25.2,0.2],[25.6,0.3],[26,0.45],[26.4,0.55],[26.8,0.75],[27.2,1.0],[27.6,1.15],[28,1.25],[28.4,1.35],[28.8,1.5],[29.2,1.7],[29.6,1.6],[29.9,1.55],[30.2,1.45],[30.6,1.2],[31,1.0],[31.4,0.7],[31.8,0.4],[32.2,0.2],[32.6,0.05],[33,0.3],[33.4,0.65],[33.8,0.95],[34.2,1.05],[34.6,0.85]];
const jMagDots = [[0,0.38],[0.3,0.45],[0.6,0.5],[1,0.55],[1.3,0.65],[1.6,0.75],[2,0.72],[2.4,0.8],[2.8,0.72],[3.1,0.85],[3.5,0.7],[3.8,0.6],[4.2,0.5],[4.6,0.45],[5,0.4],[5.4,0.25],[5.8,0.15],[6.2,0.1],[6.5,0.5],[6.9,0.55],[7.3,0.65],[7.6,0.55],[8,0.5],[8.4,0.55],[8.8,0.6],[9.2,0.5],[9.6,0.45],[10,0.4],[10.4,0.35],[10.8,0.3],[11.2,0.25],[11.6,0.15],[12,0.05],[12.4,0.08],[12.8,0.1],[13.2,0.1],[13.6,0.05],[14,0.25],[14.4,0.28],[14.8,0.3],[15.2,0.28],[15.6,0.35],[16,0.35],[16.4,0.3],[16.8,0.2],[17.2,0.1],[17.6,0.05],[18,0.4],[18.4,0.5],[18.8,0.55],[19.2,0.65],[19.6,0.8],[20,0.95],[20.4,1.05],[20.8,1.05],[21.2,1.05],[21.6,1.0],[22,0.9],[22.4,0.75],[22.8,0.6],[23.2,0.4],[23.6,0.2],[24,0.1],[24.4,0.05],[24.8,0.3],[25.2,0.45],[25.6,0.55],[26,0.7],[26.4,0.85],[26.8,0.95],[27.2,0.98],[27.6,0.95],[28,1.1],[28.4,0.95],[28.8,0.85],[29.2,0.8],[29.6,0.6],[30,0.45],[30.4,0.42],[30.8,0.2],[31.2,0.12],[31.6,0.05],[32,0.4],[32.4,0.65],[32.8,0.85],[33.2,0.95],[33.6,0.85],[34,0.8],[34.4,0.8],[34.6,0.78]];

// (K) direction
const kCyanLine = [[0,169],[0.25,150],[0.73,142],[1.7,133],[3.66,128],[5.6,125],[6.8,125],[7.3,142],[7.57,201],[7.8,277],[8.55,303],[9.76,309],[11,309],[11.7,307],[12.7,292],[13.7,273],[14.4,252],[14.9,210],[15.4,150],[16.35,131],[17.57,129],[18.3,138],[18.55,172],[18.8,273],[19.3,300],[20.26,309],[22,311],[23.4,311],[23.9,294],[24.2,244],[24.4,159],[25.14,133],[26.85,125],[29.3,121],[31,125],[31.7,138],[32.5,201],[32.7,273],[33.2,300],[33.9,309],[34.8,303]];
const kMagLine = [[0.1,360],[0.25,244],[0.37,36],[0.73,83],[1.2,100],[1.95,116],[3.17,126],[4.9,131],[5.6,136],[6,176],[6.2,294],[6.6,309],[8.05,315],[9.5,309],[10.5,302],[11.2,286],[11.7,267],[12.45,286],[13.2,303],[13.9,313],[14.4,328],[14.7,347],[14.8,8],[15.1,61],[15.6,100],[16.35,125],[17.1,129],[17.57,116],[17.8,93],[17.95,311],[18.05,358],[18.3,316],[19.5,309],[22,309],[23.2,313],[23.7,326],[23.9,345],[24,0],[24.65,49],[25.14,91],[25.6,121],[26.85,125],[28.07,131],[29.3,131],[30.5,131],[30.9,159],[31.25,286],[31.7,309],[32.6,320],[33.45,311],[34.8,301]];
const kCyanDots = [[0,133],[0.3,128],[0.7,122],[1.2,122],[2,120],[3,122],[4,118],[5,116],[6,118],[6.5,110],[7,108],[7.3,112],[7.8,122],[8.3,117],[8.5,250],[8.8,255],[9.2,245],[9.5,240],[10,250],[10.3,265],[10.6,272],[11,280],[11.4,295],[11.8,300],[12.2,225],[12.6,200],[13,175],[13.2,160],[13.5,150],[13.8,160],[14.1,133],[14.4,120],[14.7,117],[15,130],[15.4,128],[15.8,125],[16.2,122],[16.6,120],[17,118],[17.5,115],[17.9,113],[18.3,128],[18.6,135],[18.9,150],[19.1,210],[19.3,265],[19.6,283],[20,300],[20.5,305],[21,310],[21.5,318],[22,305],[22.4,322],[22.8,335],[23.07,341],[23.3,325],[23.6,323],[24.2,341],[24.4,355],[24.65,322],[25.2,115],[25.5,118],[26,120],[26.5,125],[27,118],[27.5,115],[28,118],[29,118],[30,116],[31,115],[31.5,120],[32,128],[32.4,135],[32.7,150],[32.8,245],[33.1,253],[33.5,275],[34,295],[34.5,300]];
const kMagDots = [[0,118],[0.3,115],[0.6,112],[1,112],[1.5,113],[2,115],[2.5,113],[3,114],[3.5,113],[4,110],[4.5,115],[5,122],[5.3,125],[5.7,125],[5.95,228],[6.1,330],[6.3,295],[6.6,308],[7,305],[7.5,310],[8,310],[8.5,315],[9,308],[9.5,305],[10,310],[10.5,330],[10.8,315],[11,305],[11.3,300],[11.5,305],[12.2,186],[12.3,123],[12.55,135],[12.8,146],[13.06,176],[13.2,195],[13.35,214],[13.55,248],[13.7,269],[14.03,76],[14.15,95],[14.5,106],[14.9,100],[15.1,105],[15.4,118],[15.8,112],[16.2,108],[16.6,110],[17,108],[17.2,175],[17.5,310],[17.8,315],[18.2,320],[18.5,312],[19,308],[19.5,305],[20,300],[20.5,302],[21,305],[21.5,308],[22,300],[22.5,300],[23,285],[23.3,275],[23.6,260],[23.8,230],[24,245],[24.1,85],[24.4,100],[24.6,70],[25,125],[25.5,125],[26,118],[26.5,115],[27,122],[27.5,118],[28,115],[28.5,110],[29,112],[30,115],[30.5,108],[31,100],[31.3,130],[31.7,300],[32,312],[32.5,305],[33,310],[33.5,300],[34,295],[34.5,300]];

// (L) salinity
const lCyanLine = [[0,8.7],[0.8,8.4],[1.56,9.8],[1.93,9.3],[2.3,8],[2.8,7],[3.3,4.9],[3.8,5.3],[4.3,4.5],[5,3.5],[5.8,1.7],[6.5,1.5],[7.5,1.1],[8.5,1.5],[9.5,2.6],[10.2,3.8],[11,5.2],[11.5,4.2],[12,2.9],[12.7,3.8],[13.45,5.2],[14.4,5.3],[15.4,5],[16.4,6],[17,4.5],[17.4,4.3],[18.4,4.3],[19.65,5],[20.9,6.1],[21.4,8],[22.4,8.8],[22.9,9.8],[23.4,10.5],[24.1,10.2],[25.1,9.4],[25.8,8.7],[26.3,7.7],[27.1,7.9],[27.6,6.6],[28.6,3.8],[29.3,3.8],[30,1.9],[30.8,1],[31.5,1.1],[32.3,1.5],[33.3,2],[34,3.1],[34.6,8.7]];
const lMagLine = [[0,27.2],[1.56,27.2],[2.8,26.5],[4.5,25.7],[6,24.4],[7.3,23.4],[8.5,22.2],[9.4,22.6],[10.7,21.7],[11.85,22.3],[13.08,21.5],[13.95,22],[15.2,22.6],[17.4,22.1],[19.4,22.8],[19.9,22.7],[20.9,23.4],[21.4,22.8],[22.4,20.9],[23.4,21.4],[24.1,22.3],[25.1,23.1],[26.6,22.8],[27.8,22],[28.8,20.5],[29.6,19.3],[30.3,19.2],[31,18.4],[32,17],[32.8,16.8],[33.3,16.7],[34,16.4],[34.6,16.8]];
const lCyanDots = [[0,1.8],[0.3,1.7],[0.6,1.8],[1,1.6],[1.3,1.7],[1.6,1.4],[1.9,1.2],[2.2,1.0],[2.5,1.2],[2.8,1.1],[3.1,1.3],[3.4,1.2],[3.7,1.3],[4,1.4],[4.3,1.6],[4.6,1.8],[5,2.0],[5.3,1.7],[5.6,2.2],[5.9,2.8],[6.2,2.0],[6.5,2.4],[6.8,2.2],[7.1,2.5],[7.4,2.3],[7.7,2.6],[8,2.5],[8.3,2.6],[8.6,2.4],[8.9,2.7],[9.2,2.8],[9.5,3.0],[9.8,2.7],[10.1,3.1],[10.4,2.9],[10.7,3.1],[11,2.9],[11.3,3.1],[11.6,2.9],[12,3.0],[12.3,3.3],[12.6,3.8],[13.2,3.5],[13.5,3.1],[14.1,2.5],[14.7,2.1],[15,3.2],[15.3,2.0],[15.6,2.1],[16,2.0],[16.5,2.0],[17,2.1],[17.5,1.9],[18,2.1],[18.5,2.2],[19,2.1],[19.5,2.5],[19.8,3.9],[20,2.6],[20.5,2.5],[21,2.2],[21.5,2.3],[27.95,3.3],[28.8,3.1],[29.9,2.6],[30.3,2.2],[30.8,2.1],[31.3,2.0],[31.8,2.4],[32.3,3.1],[32.5,3.8],[33,4.7],[33.3,3.8],[33.5,4.5],[33.9,5.2]];
const lCyanBars = [[22.05,2.5,7.8],[22.4,2.5,9.3],[22.7,4,9.9],[22.95,3.5,9.5],[23.2,4.8,8.2],[23.6,6.3,7.6],[24.3,7.3,8.2],[24.7,7.6,8.1],[26.2,5.2,8.2],[26.5,4.5,7.8],[26.8,3,7.4],[28.9,0.8,2.2],[12.9,2.5,4.2],[13.8,2.2,4.3],[14.3,2.2,3.9]];
const lMagDots = [[0,27],[0.5,27],[1,27],[1.5,27.2],[2,27],[2.5,26.7],[3,26.3],[3.5,26.2],[4,26],[4.5,26],[5,26.3],[5.5,26.3],[6,26.2],[6.5,26],[7,25.7],[7.5,25.6],[8,25.3],[8.5,25.1],[9,25.2],[9.5,24.6],[10,24.5],[10.5,24.4],[11,24.3],[11.5,24.2],[12,24.3],[12.5,24],[13,23.9],[13.5,23.7],[14,24],[14.5,24.2],[15,24.3],[15.5,24.4],[16,24.4],[16.5,24.3],[17,24.4],[17.5,24.3],[18,24.5],[18.5,24.4],[19,24.3],[19.5,24.2],[23.3,23.9],[23.6,23.3],[23.9,23.3],[31,18.8],[31.3,19.1],[31.6,19.2],[32,18.9],[33,18.4]];

// (M) speed
const mCyanLine = [[0,0.69],[0.37,0.97],[0.85,1.15],[1.6,1.27],[2.3,1.36],[2.8,1.38],[3.3,1.45],[3.8,1.61],[4.5,1.75],[5,1.71],[5.5,1.71],[6.2,1.54],[6.7,1.36],[7.2,1.01],[7.57,0.58],[7.8,0.23],[8.2,0.11],[8.7,0.3],[9.15,0.58],[9.64,0.65],[10.1,0.51],[10.86,0.34],[11.6,0.23],[12.2,0.37],[12.8,0.62],[13.3,0.67],[14,0.67],[15,0.67],[15.5,0.69],[16,0.78],[16.7,0.86],[17.7,0.94],[18.2,0.79],[18.7,0.55],[19.2,0.26],[19.5,0.04],[20.1,0.37],[20.9,0.62],[21.6,0.74],[22.1,0.78],[22.8,0.65],[23.55,0.41],[24.04,0.23],[24.4,0.18],[24.8,0.3],[25.3,0.76],[25.75,1.39],[26.5,1.45],[27.2,1.45],[27.9,1.64],[28.55,1.73],[29.17,1.94],[29.65,1.85],[30.4,1.61],[31.1,1.32],[31.7,0.94],[32.2,0.37],[32.8,0.69],[33.56,1.01],[34.3,1.5],[34.9,1.76],[35.4,1.55]];
const mMagLine = [[0,0.11],[0.85,0.23],[1.6,0.3],[2.3,0.48],[3.05,0.56],[3.8,0.6],[4.6,0.73],[5.25,0.58],[6.2,0.34],[6.96,0.18],[7.45,0.44],[7.9,0.69],[8.7,0.74],[9.4,0.72],[10.1,0.58],[11.1,0.34],[12.1,0.21],[13.05,0.18],[14,0.14],[15,0.11],[16,0.21],[16.7,0.3],[17.45,0.34],[18.2,0.26],[18.8,0.21],[19.4,0.41],[20.1,0.64],[21,0.72],[21.85,0.62],[22.8,0.41],[23.55,0.26],[24.2,0.21],[24.8,0.26],[25.3,0.32],[25.75,0.32],[26.5,0.44],[27.2,0.53],[27.9,0.72],[28.7,0.86],[29.05,0.92],[29.65,0.86],[30.4,0.76],[31.1,0.51],[31.7,0.34],[32.35,0.58],[33.07,0.83],[33.56,0.85],[34.3,0.81],[35.3,0.76]];
const mCyanDots = [[0,1.1],[0.2,1.2],[0.5,1.45],[0.8,1.52],[1.1,1.5],[1.4,1.48],[1.7,1.4],[2,1.05],[2.2,0.8],[2.4,0.65],[2.7,0.6],[3,0.9],[3.2,1.15],[3.4,1.3],[3.6,1.25],[3.8,1.0],[4,1.05],[4.2,1.2],[4.4,1.4],[4.6,1.55],[4.8,1.45],[5,1.35],[5.2,1.2],[5.5,1.15],[5.8,1.0],[6.1,0.9],[6.3,0.85],[6.5,0.65],[6.8,0.5],[7.1,0.3],[7.4,0.15],[7.7,0.3],[8,0.25],[8.3,0.2],[8.6,0.35],[8.9,0.45],[9.2,0.4],[9.5,0.45],[9.8,0.35],[10.1,0.3],[10.4,0.25],[10.7,0.2],[11,0.15],[11.3,0.1],[11.6,0.05],[11.9,0.1],[12.2,0.15],[12.5,0.25],[12.8,0.35],[13.2,0.45],[13.5,0.65],[13.8,0.7],[14.1,1.05],[14.4,1.15],[14.7,1.15],[15,1.1],[15.3,1.0],[15.6,0.85],[15.9,0.75],[16.3,0.72],[16.6,0.65],[17,0.62],[17.4,0.7],[17.8,0.72],[18.2,0.55],[18.5,0.45],[18.8,0.3],[19.1,0.18],[19.4,0.12],[19.8,0.3],[20.2,0.5],[20.6,0.75],[21,0.85],[21.4,0.9],[21.7,1.0],[22,0.92],[22.3,0.85],[22.6,0.7],[22.9,0.6],[23.2,0.5],[23.5,0.35],[23.8,0.22],[24.1,0.15],[24.4,0.1],[24.8,0.3],[25.1,0.55],[25.4,0.9],[25.7,1.15],[26,1.3],[26.3,1.35],[26.6,1.55],[26.8,1.7],[27,1.85],[27.2,1.95],[27.4,1.85],[27.7,1.5],[28,1.35],[28.3,1.45],[28.6,1.3],[28.9,1.4],[29.2,1.45],[29.5,1.25],[29.8,1.2],[30.1,1.15],[30.4,1.05],[30.7,0.95],[31,0.85],[31.3,0.6],[31.6,0.4],[31.9,0.25],[32.2,0.1],[32.5,0.25],[32.8,0.5],[33.1,0.8],[33.4,1.05],[33.7,1.15],[34,1.2],[34.3,1.25],[34.6,1.3],[34.9,1.15],[35.2,1.1]];
const mMagDots = [[0,0.5],[0.3,0.55],[0.6,0.5],[0.9,0.45],[1.2,0.45],[1.5,0.5],[1.8,0.45],[2.1,0.3],[2.4,0.3],[2.7,0.45],[3,0.5],[3.3,0.3],[3.6,0.35],[4,0.48],[4.4,0.45],[4.8,0.4],[5.1,0.4],[5.4,0.35],[5.7,0.3],[6,0.15],[6.3,0.05],[6.6,0.05],[6.9,0.1],[7.2,0.2],[7.5,0.35],[7.8,0.5],[8.1,0.55],[8.4,0.45],[8.7,0.5],[9,0.38],[9.3,0.3],[9.6,0.3],[9.9,0.25],[10.2,0.3],[10.5,0.25],[10.8,0.2],[11.1,0.15],[11.4,0.05],[11.7,0.08],[12,0.12],[12.3,0.15],[12.6,0.2],[12.9,0.25],[13.2,0.2],[13.5,0.15],[13.8,0.22],[14.1,0.2],[14.4,0.25],[14.7,0.15],[15,0.15],[15.3,0.12],[15.6,0.1],[15.9,0.12],[16.3,0.15],[16.6,0.2],[16.9,0.25],[17.2,0.15],[17.5,0.1],[17.8,0.2],[18.1,0.25],[18.4,0.3],[18.7,0.35],[19,0.5],[19.3,0.5],[19.6,0.55],[19.9,0.7],[20.2,0.85],[20.5,1.0],[20.8,0.95],[21.1,0.9],[21.4,0.95],[21.6,1.08],[21.9,0.95],[22.2,0.85],[22.5,0.6],[22.8,0.5],[23.1,0.35],[23.4,0.25],[23.7,0.2],[24,0.12],[24.3,0.2],[24.6,0.3],[24.9,0.4],[25.2,0.5],[25.5,0.5],[25.8,0.55],[26.1,0.55],[26.4,0.6],[26.7,0.65],[27,0.65],[27.3,0.7],[27.6,0.75],[27.9,0.82],[28.2,0.9],[28.5,0.95],[28.8,1.05],[29.1,0.95],[29.4,0.9],[29.7,0.75],[30,0.65],[30.3,0.5],[30.6,0.35],[30.9,0.25],[31.2,0.15],[31.5,0.12],[31.8,0.05],[32.1,0.4],[32.4,0.7],[32.7,0.75],[33,0.78],[33.3,0.75],[33.6,0.8],[33.9,0.78],[34.2,0.72],[34.5,0.6],[34.8,0.6],[35.1,0.5],[35.3,0.47]];

// (N) direction
const nCyanLine = [[0,116],[0.73,112],[1.2,104],[1.95,85],[2.9,83],[3.66,108],[4.9,114],[6.1,116],[6.8,121],[7.57,129],[7.9,142],[8.3,239],[8.55,273],[9.3,286],[10.25,307],[11,330],[11.35,360],[11.47,11],[11.7,70],[12.45,95],[13.9,106],[15.87,108],[18.3,110],[19.3,104],[19.5,95],[19.6,332],[19.8,318],[20.7,320],[21.97,311],[22.9,303],[23.7,313],[24.2,360],[24.3,155],[24.4,32],[24.9,74],[25.6,100],[26.85,104],[28.07,95],[29,104],[30,114],[31,121],[31.85,142],[32.1,218],[32.35,282],[33,282],[34.2,290],[35.4,292]];
const nMagLine = [[0,112],[0.5,114],[1,100],[1.7,87],[2.44,95],[3.17,97],[4.15,95],[4.9,83],[5.6,74],[6.6,74],[6.8,59],[7,324],[7.3,275],[8,271],[9,284],[10,277],[10.75,273],[11.47,267],[12.3,277],[13.2,303],[14.15,294],[14.9,311],[15.5,360],[15.6,19],[16.1,61],[16.85,83],[17.8,83],[18.55,61],[18.85,0],[19.04,320],[19.5,286],[20.26,277],[21.2,282],[22.2,275],[23.2,286],[23.9,311],[24.3,349],[24.4,277],[24.5,11],[25,66],[25.6,78],[26.35,76],[27.1,95],[28.07,89],[29.3,85],[30.5,76],[31.25,74],[31.85,44],[32,0],[32.2,324],[32.5,294],[33.2,280],[34.2,286],[35.4,294]];
const nCyanDots = [[0,115],[0.3,117],[0.6,115],[0.9,110],[1.2,100],[1.5,105],[1.8,100],[2.2,108],[2.6,110],[3,112],[3.3,115],[3.7,105],[4,110],[4.3,115],[4.6,112],[5,115],[5.4,112],[5.8,115],[6.2,110],[6.5,105],[6.9,95],[7.2,75],[7.4,65],[7.6,20],[7.8,2],[8.2,300],[8.5,310],[8.9,335],[9.2,330],[9.4,305],[9.6,300],[9.9,315],[10.2,310],[10.6,320],[10.9,335],[11.2,345],[11.6,350],[11.3,66],[11.96,157],[12.1,150],[12.7,144],[13.4,127],[13.9,125],[14.65,123],[15.4,116],[16.1,112],[16.85,114],[17.8,116],[18.8,119],[19.3,341],[19.65,326],[20,316],[20.7,311],[21.7,307],[22.7,313],[23.2,307],[23.55,273],[23.9,263],[24.2,252],[24.5,163],[24.8,127],[25.14,112],[25.6,104],[26.35,112],[26.85,116],[27.6,104],[28.07,114],[29,119],[30,116],[30.75,125],[31.7,87],[31.95,337],[32.2,307],[33,305],[34.2,282],[35.15,286]];
const nMagDots = [[0,98],[0.3,95],[0.6,97],[1,93],[1.3,75],[1.5,60],[1.7,68],[2.1,90],[2.5,93],[2.9,95],[3.3,80],[3.7,85],[4.1,82],[4.5,80],[4.9,75],[5.3,78],[5.7,75],[6,80],[6.2,243],[6.35,294],[6.45,277],[6.6,78],[6.7,290],[7.6,265],[8,273],[8.55,282],[9,305],[9.5,296],[10,294],[10.5,288],[11,286],[11.7,133],[11.96,123],[12.3,116],[12.7,112],[13.2,106],[13.7,93],[13.9,72],[13.7,51],[14.4,95],[14.9,95],[15.4,93],[15.9,87],[16.1,57],[16.5,66],[16.7,28],[17,25],[17.2,349],[17.4,307],[17.6,296],[17.8,280],[18.05,286],[18.55,292],[19.5,303],[20,307],[20.7,303],[21.45,300],[22.2,299],[22.7,296],[23.2,282],[23.5,252],[23.7,199],[23.8,161],[23.9,140],[24.3,110],[24.65,95],[25.14,97],[25.6,112],[26.35,59],[26.85,70],[27.3,66],[28.07,53],[28.55,68],[29.3,70],[30,74],[30.5,87],[31,93],[31.35,2],[31.5,296],[31.7,280],[32.5,273],[33.45,294],[34.2,305],[34.95,303]];

// (O) salinity
const oCyanLine = [[0,13.5],[1,11],[2,11.5],[3,9.5],[4,9.8],[5,10],[6,9.3],[7,8.5],[8,9],[8.7,11],[9,13.5],[9.5,10],[10,9],[11,8.5],[12,9.5],[13,9],[14,10.5],[15,9.5],[16,10],[17,9],[18,10],[19,9.5],[20,10.5],[21,11.5],[22,12.5],[23,11.5],[24,13],[25,13.5],[25.5,11],[26,9],[27,8.5],[28,9.5],[29,9],[30,10.5],[31,11],[32,11.5],[33,14.5],[34,11.5],[35,13.5]];
const oMagLine = [[0,27],[2,27.2],[4,26.8],[5,27],[7,26.3],[9,25],[11,24],[13,23.6],[16,23.6],[19,23.5],[22,23],[24,23.3],[26,22.8],[28,22.2],[30,21.5],[32,21.3],[33.5,20.7],[34.5,21.3]];
const oCyanBars = [[7,5.5,9],[8,5.5,10],[9,9,14],[10.5,5,8],[11.5,4.5,7.5],[12.5,5,9],[13.5,6.5,9],[15,6,9.5],[16.5,5.5,8.5],[17.5,5.5,9],[18.7,6,12],[20,5,7.5],[21.5,4.5,5],[22.5,5,5.5],[23.5,6,10.5],[24.5,6,11],[26,5,5.5],[27,7.5,8],[28.5,8.5,9],[30,9,10],[32,10,14],[33,11,12],[34,11,11.5]];
const oMagBars = [[22,18.5,20.5],[29.5,18.5,20]];
const oMagDots = [[7,26.5],[16,25.3],[23.5,21.5],[27,21],[27,20.2],[28,21.5],[28,20.6],[31,20],[32.5,19.8]];

// ---- layout of the grid ----
const colLeft = [120, 972, 1824];
const rowTop = [72, 497, 923, 1349, 1774];
const plotW = 640, plotH = 287;
const titlePad = [46, 4, 43];
const CYAN = 'rgb(0,228,228)';
const MAG = 'rgb(255,0,255)';
const FONT = "'Liberation Sans', Arial, Helvetica, sans-serif";

Chart.defaults.color = '#000';
Chart.defaults.font.family = FONT;

const panels = [
  {tag:'(A)', col:0, row:0, xMax:30, yMax:1.5, yStep:0.5, yLab:1, title:'Speed (m/s)', cl:aCyanLine, ml:aMagLine, cd:aCyanDots, md:aMagDots},
  {tag:'(B)', col:1, row:0, xMax:30, yMax:360, yStep:60, yLab:120, title:'Direction (°)', cl:bCyanLine, ml:bMagLine, cd:bCyanDots, md:bMagDots},
  {tag:'(C)', col:2, row:0, xMax:30, yMax:3, yStep:0.5, yLab:1, title:'Salinity (psu)', cl:cCyanLine, ml:cMagLine, cd:cCyanDots, md:cMagDots},
  {tag:'(D)', col:0, row:1, xMax:36, yMax:2, yStep:0.5, yLab:1, title:'Speed (m/s)', cl:dCyanLine, ml:dMagLine, cd:dCyanDots, md:dMagDots},
  {tag:'(E)', col:1, row:1, xMax:36, yMax:360, yStep:60, yLab:120, title:'Direction (°)', cl:eCyanLine, ml:eMagLine, cd:eCyanDots, md:eMagDots},
  {tag:'(F)', col:2, row:1, xMax:36, yMax:3, yStep:0.5, yLab:1, title:'Salinity (psu)', cl:fCyanLine, ml:fMagLine, cd:fCyanDots, md:fMagDots},
  {tag:'(G)', col:0, row:2, xMax:39, yMax:3, yStep:0.5, yLab:1, title:'Speed (m/s)', cl:gCyanLine, ml:gMagLine, cd:gCyanDots, md:gMagDots},
  {tag:'(H)', col:1, row:2, xMax:39, yMax:360, yStep:60, yLab:120, title:'Direction (°)', cl:hCyanLine, ml:hMagLine, cd:hCyanDots, md:hMagDots},
  {tag:'(I)', col:2, row:2, xMax:39, yMax:24, yStep:3, yLab:6, title:'Salinity (psu)', cl:iCyanLine, ml:iMagLine, cd:iCyanDots, md:iMagDots},
  {tag:'(J)', col:0, row:3, xMax:36, yMax:3, yStep:0.5, yLab:1, title:'Speed (m/s)', cl:jCyanLine, ml:jMagLine, cd:jCyanDots, md:jMagDots},
  {tag:'(K)', col:1, row:3, xMax:36, yMax:360, yStep:60, yLab:120, title:'Direction (°)', cl:kCyanLine, ml:kMagLine, cd:kCyanDots, md:kMagDots},
  {tag:'(L)', col:2, row:3, xMax:36, yMax:30, yStep:3, yLab:6, title:'Salinity (psu)', cl:lCyanLine, ml:lMagLine, cd:lCyanDots, md:lMagDots, cb:lCyanBars, barW:5},
  {tag:'(M)', col:0, row:4, xMax:36, yMax:3, yStep:0.5, yLab:1, title:'Speed (m/s)', cl:mCyanLine, ml:mMagLine, cd:mCyanDots, md:mMagDots},
  {tag:'(N)', col:1, row:4, xMax:36, yMax:360, yStep:60, yLab:120, title:'Direction (°)', cl:nCyanLine, ml:nMagLine, cd:nCyanDots, md:nMagDots},
  {tag:'(O)', col:2, row:4, xMax:36, yMax:30, yStep:5, yLab:10, title:'Salinity (psu)', cl:oCyanLine, ml:oMagLine, cd:[], md:oMagDots, cb:oCyanBars, mb:oMagBars, barW:7},
];

// frame, outward ticks on all four sides, and the panel tag
const frameTicks = {
  id: 'frameTicks',
  afterDraw(chart, args, opts) {
    const {ctx, chartArea: a, scales: {x, y}} = chart;
    ctx.save();
    ctx.strokeStyle = '#000';
    ctx.lineWidth = 2.5;
    ctx.beginPath();
    x.ticks.forEach(tk => {
      const px = x.getPixelForValue(tk.value);
      const len = tk.value % 6 === 0 ? 15 : 8;
      ctx.moveTo(px, a.bottom); ctx.lineTo(px, a.bottom + len);
      ctx.moveTo(px, a.top); ctx.lineTo(px, a.top - len);
    });
    y.ticks.forEach(tk => {
      const py = y.getPixelForValue(tk.value);
      ctx.moveTo(a.left, py); ctx.lineTo(a.left - 14, py);
      ctx.moveTo(a.right, py); ctx.lineTo(a.right + 14, py);
    });
    ctx.stroke();
    ctx.strokeRect(a.left, a.top, a.right - a.left, a.bottom - a.top);
    ctx.fillStyle = '#000';
    ctx.font = '37px ' + FONT;
    ctx.textAlign = 'right';
    ctx.textBaseline = 'middle';
    ctx.fillText(opts.tag, a.right - 47, a.top - 41);
    ctx.restore();
  }
};

function isLabel(v, step) {
  return Math.abs(v / step - Math.round(v / step)) < 1e-6;
}

function makePanel(p) {
  const cv = document.createElement('canvas');
  cv.width = plotW + 200;
  cv.height = plotH + 200;
  cv.style.left = (colLeft[p.col] - 160) + 'px';
  cv.style.top = (rowTop[p.row] - 60) + 'px';
  document.body.appendChild(cv);

  const datasets = [
    {type: 'line', data: p.ml, borderColor: MAG, borderWidth: 3, pointRadius: 0, order: 0},
    {type: 'line', data: p.cl, borderColor: CYAN, borderWidth: 3, pointRadius: 0, order: 1},
    {type: 'line', data: p.md, showLine: false, pointRadius: 3.6, pointBorderWidth: 0, pointBackgroundColor: MAG, order: 2},
    {type: 'line', data: p.cd, showLine: false, pointRadius: 3.6, pointBorderWidth: 0, pointBackgroundColor: CYAN, order: 3},
  ];
  if (p.mb) {
    datasets.push({type: 'bar', data: p.mb.map(b => ({x: b[0], y: [b[1], b[2]]})),
      backgroundColor: MAG, barThickness: p.barW, borderRadius: 3, borderSkipped: false, order: 2});
  }
  if (p.cb) {
    datasets.push({type: 'bar', data: p.cb.map(b => ({x: b[0], y: [b[1], b[2]]})),
      backgroundColor: CYAN, barThickness: p.barW, borderRadius: 3, borderSkipped: false, order: 3});
  }

  new Chart(cv, {
    type: 'line',
    data: {datasets},
    options: {
      responsive: false,
      animation: false,
      devicePixelRatio: 1,
      layout: {padding: {top: 60, right: 40, left: 0, bottom: 0}},
      elements: {line: {tension: 0}},
      plugins: {legend: {display: false}, tooltip: {enabled: false}, frameTicks: {tag: p.tag}},
      scales: {
        x: {
          type: 'linear', min: 0, max: p.xMax, offset: false,
          grid: {display: false, drawTicks: false}, border: {display: false},
          ticks: {stepSize: 3, autoSkip: false, maxRotation: 0, padding: 27, font: {size: 37},
                  callback: v => (v % 6 === 0 ? String(v) : '')},
          title: {display: p.row === 4, text: 'Time (hour)', font: {size: 40}, padding: {top: 0, bottom: 16}},
          afterFit: s => { s.height = 140; }
        },
        y: {
          type: 'linear', min: 0, max: p.yMax,
          grid: {display: false, drawTicks: false}, border: {display: false},
          ticks: {stepSize: p.yStep, autoSkip: false, padding: 19, font: {size: 37},
                  callback: v => (isLabel(v, p.yLab) ? String(v) : '')},
          title: {display: true, text: p.title, font: {size: 44}, padding: {top: titlePad[p.col], bottom: 0}},
          afterFit: s => { s.width = 160; }
        }
      }
    },
    plugins: [frameTicks]
  });
}

panels.forEach(makePanel);
</script>
</body>
</html>
